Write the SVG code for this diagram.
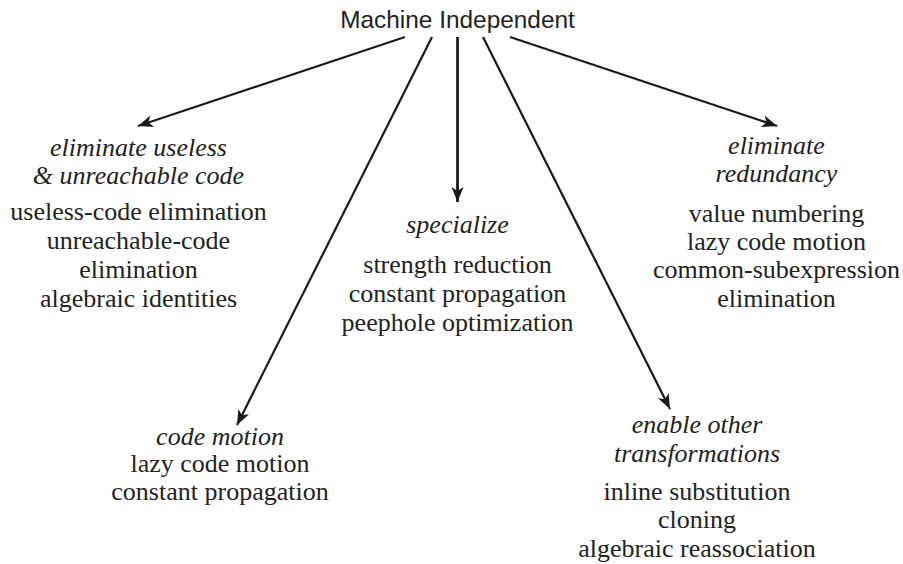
<svg xmlns="http://www.w3.org/2000/svg" width="903" height="564" viewBox="0 0 903 564">
<style>
.t{font-family:'Liberation Serif','Times New Roman',serif;font-size:26px;fill:#222;text-anchor:middle}
.i{font-family:'Liberation Serif','Times New Roman',serif;font-style:italic;font-size:26px;fill:#222;text-anchor:middle}
.h{font-family:'Liberation Sans',Arial,sans-serif;font-size:24.4px;fill:#222;text-anchor:middle}
.e{stroke:#1a1a1a;stroke-width:2.2;fill:none;marker-end:url(#ah)}
</style>
<defs>
<marker id="ah" markerUnits="userSpaceOnUse" markerWidth="20" markerHeight="16" viewBox="-16 -8 18 16" refX="0" refY="0" orient="auto">
<path d="M0,0 L-15,-6 L-11,0 L-15,6 Z" fill="#1a1a1a"/>
</marker>
</defs>
<rect width="903" height="564" fill="#fff"/>
<g id="root"><text class="h" x="457.5" y="28">Machine Independent</text></g>
<g id="connectors">
<line class="e" x1="405" y1="37" x2="138" y2="126"/>
<line class="e" x1="432" y1="37" x2="237" y2="425"/>
<line class="e" x1="457.5" y1="37" x2="457.5" y2="202" style="stroke-width:2.8"/>
<line class="e" x1="483" y1="37" x2="670" y2="409"/>
<line class="e" x1="510" y1="37" x2="777" y2="126"/>
</g>
<g id="useless">
<text class="i" x="138.5" y="156">eliminate useless</text>
<text class="i" x="138.5" y="184">&amp; unreachable code</text>
<text class="t" x="138.5" y="220">useless-code elimination</text>
<text class="t" x="138.5" y="249">unreachable-code</text>
<text class="t" x="138.5" y="278">elimination</text>
<text class="t" x="138.5" y="307">algebraic identities</text>
</g>
<g id="specialize">
<text class="i" x="457.5" y="233">specialize</text>
<text class="t" x="457.5" y="273">strength reduction</text>
<text class="t" x="457.5" y="302">constant propagation</text>
<text class="t" x="457.5" y="331">peephole optimization</text>
</g>
<g id="redundancy">
<text class="i" x="776.5" y="154">eliminate</text>
<text class="i" x="776.5" y="182">redundancy</text>
<text class="t" x="776.5" y="222">value numbering</text>
<text class="t" x="776.5" y="250">lazy code motion</text>
<text class="t" x="776.5" y="278">common-subexpression</text>
<text class="t" x="776.5" y="307">elimination</text>
</g>
<g id="codemotion">
<text class="i" x="220" y="445">code motion</text>
<text class="t" x="220" y="472">lazy code motion</text>
<text class="t" x="220" y="500">constant propagation</text>
</g>
<g id="enable">
<text class="i" x="697" y="433">enable other</text>
<text class="i" x="697" y="462">transformations</text>
<text class="t" x="697" y="500">inline substitution</text>
<text class="t" x="697" y="528">cloning</text>
<text class="t" x="697" y="557">algebraic reassociation</text>
</g>
</svg>
